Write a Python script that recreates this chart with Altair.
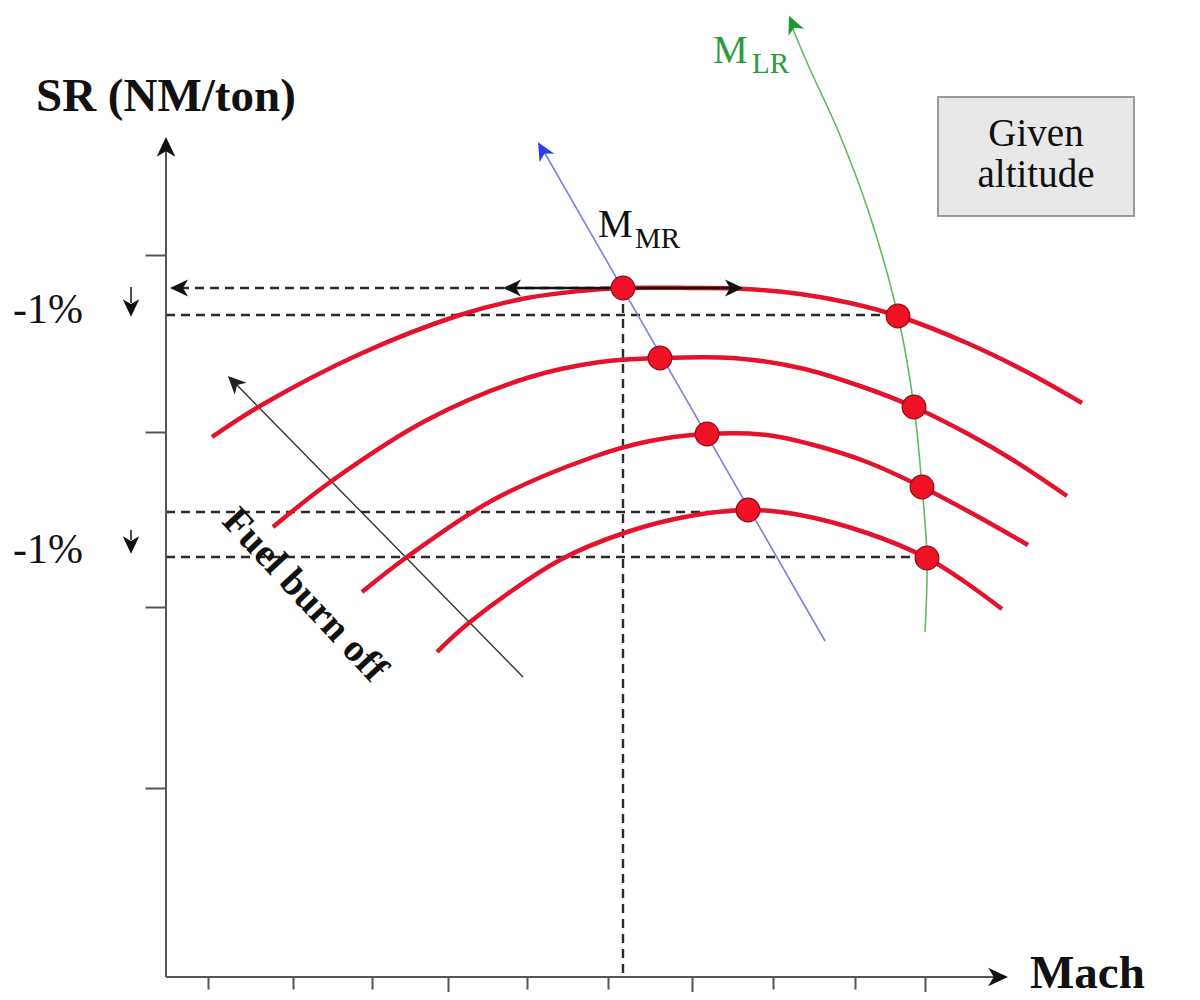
import altair as alt
import pandas as pd

# ---------------- data (schematic units) ----------------
# Specific-range curves, one per aircraft weight (fuel burn off moves them up)
CURVE_1_X = [212, 260, 360, 460, 527, 580, 623, 690, 745, 800, 850, 898, 967, 1025, 1082]
CURVE_1_Y = [437, 406, 354, 315, 298, 291, 288, 288, 289, 294, 303, 316, 343, 371, 403]
CURVE_2_X = [273, 333, 427, 527, 600, 660, 733, 800, 860, 914, 970, 1013, 1067]
CURVE_2_Y = [527, 480, 420, 378, 362, 358, 358, 368, 386, 407, 435, 460, 496]
CURVE_3_X = [362, 407, 493, 593, 650, 707, 767, 810, 867, 922, 975, 1028]
CURVE_3_Y = [592, 557, 500, 457, 441, 434, 435, 444, 462, 487, 515, 545]
CURVE_4_X = [437, 470, 560, 627, 690, 749, 800, 867, 927, 965, 1002]
CURVE_4_Y = [652, 622, 560, 532, 516, 510, 515, 533, 558, 582, 609]

# Maximum-range (MMR) and long-range (MLR) points
MR_X = [623, 660, 707, 748]
MR_Y = [288, 358, 434, 510]
LR_X = [898, 914, 922, 927]
LR_Y = [316, 407, 487, 558]

# MLR locus (green)
MLR_X = [925, 927, 922, 914, 898, 869, 839, 809, 792]
MLR_Y = [632, 558, 487, 407, 316, 213, 133, 67, 27]

# straight solid segments: axes, MMR locus, fuel burn arrow, small -1% arrows
SEG_X1 = [166, 166, 825, 523, 131, 131]
SEG_Y1 = [977, 977, 641, 677, 287, 530]
SEG_X2 = [166, 995, 543, 235, 131, 131]
SEG_Y2 = [150, 977, 150, 383, 303, 540]
SEG_COLOR = ["#555555", "#555555", "#7c80de", "#333333", "#111111", "#111111"]
SEG_WIDTH = [2, 2, 1.6, 1.4, 1.5, 1.5]

# +/- Mach double arrow on the top curve
PM_X1, PM_X2, PM_Y = [513], [733], [288]

# dashed guide lines
DASH_X1 = [180, 166, 166, 166, 623]
DASH_Y1 = [288, 315, 512, 557, 289]
DASH_X2 = [610, 888, 737, 916, 623]
DASH_Y2 = [288, 315, 512, 557, 977]

# arrow heads
ARROW_X = [166, 997, 180, 513, 733, 543, 793, 235, 131, 131]
ARROW_Y = [148, 977, 288, 288, 288, 151, 25, 383, 307, 544]
ARROW_ANGLE = [0, 90, 270, 270, 90, 330, 336, 315, 180, 180]
ARROW_SIZE = [484, 484, 400, 400, 400, 400, 400, 400, 380, 380]
ARROW_COLOR = ["#111111", "#111111", "#111111", "#111111", "#111111",
               "#2a3fe8", "#1f9a2f", "#222222", "#111111", "#111111"]

# axis ticks
X_TICKS = [208, 293, 372, 448, 527, 608, 692, 773, 855, 925]
X_TICKS_LONG = [448, 692, 925]
Y_TICKS = [255, 432, 607, 788]

# texts
BOLD_TEXT = ["SR (NM/ton)", "Mach"]
BOLD_X = [36, 1030]
BOLD_Y = [111, 988]
BOLD_SIZE = [47, 47]

FUEL_TEXT = ["Fuel burn off"]
FUEL_TX = [305]
FUEL_TY = [595]

LABEL_TEXT = ["-1%", "-1%", "M", "MR", "M", "LR"]
LABEL_X = [13, 13, 598, 635, 713, 752]
LABEL_Y = [323, 563, 237, 248, 63, 73]
LABEL_SIZE = [42, 42, 39, 29, 39, 29]
LABEL_COLOR = ["#111111", "#111111", "#111111", "#111111", "#2e9a3e", "#2e9a3e"]

BOX_TEXT = ["Given", "altitude"]
BOX_TX = [1036, 1036]
BOX_TY = [146, 187]
BOX_X1, BOX_X2, BOX_Y1, BOX_Y2 = [938], [1134], [97], [216]

# ---------------- tables ----------------
curves = []
for name, xs, ys in [("w1", CURVE_1_X, CURVE_1_Y), ("w2", CURVE_2_X, CURVE_2_Y),
                     ("w3", CURVE_3_X, CURVE_3_Y), ("w4", CURVE_4_X, CURVE_4_Y)]:
    for i, (a, b) in enumerate(zip(xs, ys)):
        curves.append({"curve": name, "i": i, "x": a, "y": b})
curves = pd.DataFrame(curves)

dots = pd.DataFrame({"x": MR_X + LR_X, "y": MR_Y + LR_Y})
mlr = pd.DataFrame({"i": list(range(len(MLR_X))), "x": MLR_X, "y": MLR_Y})
segs = pd.DataFrame({"x": SEG_X1, "y": SEG_Y1, "x2": SEG_X2, "y2": SEG_Y2,
                     "color": SEG_COLOR, "w": SEG_WIDTH})
pm = pd.DataFrame({"x": PM_X1, "x2": PM_X2, "y": PM_Y})
dashes = pd.DataFrame({"x": DASH_X1, "y": DASH_Y1, "x2": DASH_X2, "y2": DASH_Y2})
arrows = pd.DataFrame({"x": ARROW_X, "y": ARROW_Y, "angle": ARROW_ANGLE,
                       "size": ARROW_SIZE, "color": ARROW_COLOR})
bold = pd.DataFrame({"x": BOLD_X, "y": BOLD_Y, "text": BOLD_TEXT, "size": BOLD_SIZE})
fuel = pd.DataFrame({"x": FUEL_TX, "y": FUEL_TY, "text": FUEL_TEXT})
labels = pd.DataFrame({"x": LABEL_X, "y": LABEL_Y, "text": LABEL_TEXT,
                       "size": LABEL_SIZE, "color": LABEL_COLOR})
boxtext = pd.DataFrame({"x": BOX_TX, "y": BOX_TY, "text": BOX_TEXT})
box = pd.DataFrame({"x": BOX_X1, "x2": BOX_X2, "y": BOX_Y1, "y2": BOX_Y2})

# ---------------- scales & axes ----------------
XS = alt.Scale(domain=[8, 1192], nice=False, zero=False)
YS = alt.Scale(domain=[8, 992], nice=False, zero=False, reverse=True)
long_test = "indexof([" + ",".join(str(v) for v in X_TICKS_LONG) + "], datum.value) >= 0"
XA = alt.Axis(values=X_TICKS, labels=False, domain=False, grid=False, title=None,
              tickColor="#555555", tickWidth=2, offset=-15,
              tickSize={"condition": {"test": long_test, "value": 24}, "value": 12})
YA = alt.Axis(values=Y_TICKS, labels=False, domain=False, grid=False, title=None,
              tickColor="#555555", tickWidth=2, tickSize=21, offset=-158)


def X(f="x"):
    return alt.X(f"{f}:Q", scale=XS, axis=XA)


def Y(f="y"):
    return alt.Y(f"{f}:Q", scale=YS, axis=YA)


SERIF = "Liberation Serif"
ARROW_PATH = "M0,-1L0.85,0.8L0,0.3L-0.85,0.8Z"

box_layer = alt.Chart(box).mark_rect(fill="#e8e8e8", stroke="#9a9a9a", strokeWidth=2).encode(
    x=X(), x2="x2:Q", y=Y(), y2="y2:Q")

dash_layer = alt.Chart(dashes).mark_rule(color="#2a2a2a", strokeWidth=2.4, strokeDash=[9, 6]).encode(
    x=X(), x2="x2:Q", y=Y(), y2="y2:Q")

seg_layer = alt.Chart(segs).mark_rule().encode(
    x=X(), x2="x2:Q", y=Y(), y2="y2:Q",
    color=alt.Color("color:N", scale=None),
    size=alt.Size("w:Q", scale=None))

mlr_layer = alt.Chart(mlr).mark_line(color="#62b865", strokeWidth=1.6, interpolate="catmull-rom").encode(
    x=X(), y=Y(), order="i:Q")

curve_layer = alt.Chart(curves).mark_line(color="#e3132d", strokeWidth=4.5, interpolate="catmull-rom").encode(
    x=X(), y=Y(), detail="curve:N", order="i:Q")

pm_layer = alt.Chart(pm).mark_rule(color="#111111", strokeWidth=2.4).encode(
    x=X(), x2="x2:Q", y=Y())

dot_layer = alt.Chart(dots).mark_circle(color="#ef1124", stroke="#8a0a18", strokeWidth=1.2,
                                        opacity=1, size=560).encode(x=X(), y=Y())

arrow_layer = alt.Chart(arrows).mark_point(shape=ARROW_PATH, filled=True, opacity=1, strokeWidth=0).encode(
    x=X(), y=Y(),
    angle=alt.Angle("angle:Q", scale=None),
    size=alt.Size("size:Q", scale=None),
    color=alt.Color("color:N", scale=None))

bold_layer = alt.Chart(bold).mark_text(font=SERIF, fontWeight="bold", align="left",
                                       baseline="alphabetic", color="#111111").encode(
    x=X(), y=Y(), text="text:N", size=alt.Size("size:Q", scale=None))

fuel_layer = alt.Chart(fuel).mark_text(font=SERIF, fontWeight="bold", align="center",
                                       baseline="middle", color="#111111", angle=47, fontSize=39).encode(
    x=X(), y=Y(), text="text:N")

label_layer = alt.Chart(labels).mark_text(font=SERIF, align="left", baseline="alphabetic").encode(
    x=X(), y=Y(), text="text:N",
    size=alt.Size("size:Q", scale=None),
    color=alt.Color("color:N", scale=None))

boxtext_layer = alt.Chart(boxtext).mark_text(font=SERIF, align="center", baseline="alphabetic",
                                             fontSize=39, color="#111111").encode(
    x=X(), y=Y(), text="text:N")

chart = alt.layer(
    box_layer, dash_layer, seg_layer, mlr_layer, curve_layer, pm_layer, dot_layer, arrow_layer,
    bold_layer, fuel_layer, label_layer, boxtext_layer
).properties(
    width=1184, height=984, padding=0,
    autosize=alt.AutoSizeParams(type="none"),
    background="white"
).configure_view(stroke=None)

chart.save("out.html", embed_options={"renderer": "svg", "actions": False})
